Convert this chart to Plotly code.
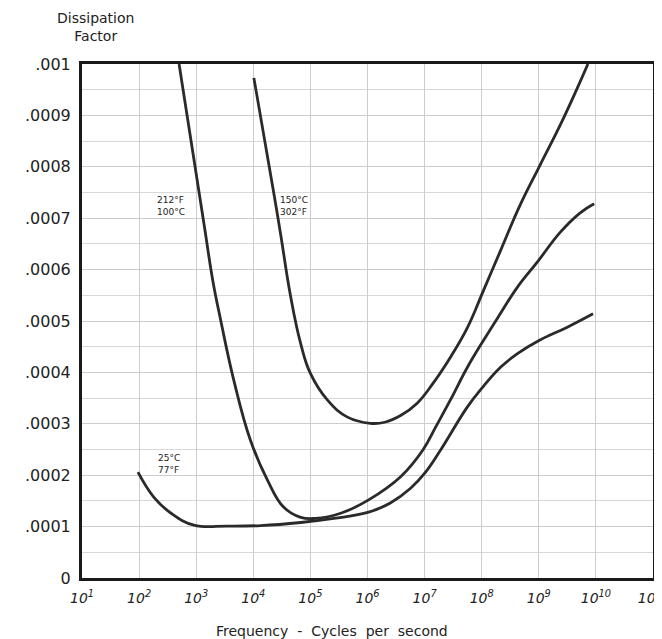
import plotly.graph_objects as go

# Frequency (log10 of Hz) and dissipation factor values
log_f_25C = [1.98, 2.26, 2.56, 2.96, 3.55, 4.13, 4.83, 5.41, 6.02, 6.40, 6.75, 7.01, 7.28, 7.75, 8.03, 8.33, 8.62, 9.02, 9.50, 9.95]
df_25C = [0.000206, 0.000157, 0.000126, 0.000103, 0.000101, 0.000102, 0.000108, 0.000116, 0.000128, 0.000146, 0.000174, 0.000205, 0.000249, 0.000333, 0.000373, 0.000410, 0.000436, 0.000463, 0.000488, 0.000514]

log_f_100C = [2.70, 2.85, 3.00, 3.15, 3.29, 3.43, 3.66, 3.95, 4.25, 4.53, 4.83, 5.09, 5.53, 6.02, 6.58, 6.97, 7.20, 7.45, 7.75, 8.03, 8.33, 8.62, 8.99, 9.37, 9.72, 9.97]
df_100C = [0.001, 0.000893, 0.000786, 0.000679, 0.000579, 0.000501, 0.000384, 0.000268, 0.000190, 0.000138, 0.000118, 0.000116, 0.000126, 0.000152, 0.000197, 0.000249, 0.000295, 0.000346, 0.000410, 0.000462, 0.000515, 0.000565, 0.000617, 0.000672, 0.000710, 0.000728]

log_f_150C = [4.01, 4.36, 4.48, 4.65, 4.83, 5.00, 5.30, 5.65, 6.05, 6.30, 6.58, 6.87, 7.15, 7.45, 7.75, 8.03, 8.33, 8.67, 9.02, 9.37, 9.67, 9.86]
df_150C = [0.000973, 0.000748, 0.000668, 0.000550, 0.000456, 0.000398, 0.000346, 0.000313, 0.000301, 0.000303, 0.000316, 0.000340, 0.000379, 0.000429, 0.000487, 0.000559, 0.000637, 0.000725, 0.000803, 0.000880, 0.000952, 0.001]

x_tick_exps = [1, 2, 3, 4, 5, 6, 7, 8, 9, 10, 11]
y_tick_vals = [0, 0.0001, 0.0002, 0.0003, 0.0004, 0.0005, 0.0006, 0.0007, 0.0008, 0.0009, 0.001]
y_tick_text = ["0", ".0001", ".0002", ".0003", ".0004", ".0005", ".0006", ".0007", ".0008", ".0009", ".001"]

# (text, log10 frequency of left edge, dissipation factor at centre)
curve_labels = [
    ("212°F<br>100°C", 2.27, 0.000724),
    ("150°C<br>302°F", 4.44, 0.000724),
    ("25°C<br>77°F", 2.29, 0.000221),
]

LINE = "#2a2a2a"
FONT = "DejaVu Sans"

fig = go.Figure()
for lx, ly in [(log_f_25C, df_25C), (log_f_100C, df_100C), (log_f_150C, df_150C)]:
    fig.add_trace(go.Scatter(
        x=[10 ** v for v in lx], y=ly, mode="lines",
        line=dict(color=LINE, width=2.8, shape="spline", smoothing=1.2),
        showlegend=False, hoverinfo="skip",
    ))

for text, lx, y in curve_labels:
    fig.add_annotation(x=lx, y=y, text=text, showarrow=False,
                       font=dict(family=FONT, size=9, color="#222"), align="left",
                       xanchor="left", yanchor="middle")

# plot area spans 572 px wide (81..653 on screen)
fig.add_annotation(xref="paper", yref="paper", x=(95 - 81) / 572, y=1.0, yshift=18,
                   text="Dissipation<br>Factor", showarrow=False,
                   font=dict(family=FONT, size=14, color="#222"), align="center",
                   xanchor="center", yanchor="bottom")

fig.add_annotation(xref="paper", yref="paper", x=(331 - 81) / 572, y=0, yshift=-43,
                   text="Frequency  -  Cycles  per  second", showarrow=False,
                   font=dict(family=FONT, size=14, color="#222"),
                   xanchor="center", yanchor="top")

# the page body adds an offset, so the figure is a little smaller than the window
fig.update_layout(
    width=654, height=631,
    margin=dict(l=74, r=9, t=56, b=61),
    paper_bgcolor="white", plot_bgcolor="white",
    font=dict(family=FONT, color="#222"),
    xaxis=dict(
        type="log", range=[1, 11], automargin=False,
        tickvals=[10 ** e for e in x_tick_exps],
        ticktext=[f"<i>10<sup>{e}</sup></i>" for e in x_tick_exps],
        tickfont=dict(size=14, family=FONT),
        ticklabeloverflow="allow", ticklabelstandoff=5,
        showgrid=True, gridcolor="#cdcdcd", gridwidth=1,
        showline=True, linecolor="#1a1a1a", linewidth=3, mirror=True,
        ticks="", zeroline=False,
    ),
    yaxis=dict(
        range=[0, 0.001], automargin=False,
        tickvals=y_tick_vals, ticktext=y_tick_text,
        tickfont=dict(size=16, family=FONT),
        ticklabeloverflow="allow",
        showgrid=True, gridcolor="#cdcdcd", gridwidth=1,
        minor=dict(dtick=0.00005, showgrid=True, gridcolor="#d8d8d8", gridwidth=1),
        showline=True, linecolor="#1a1a1a", linewidth=3, mirror=True,
        ticks="", zeroline=False, ticklabelstandoff=5,
    ),
)

fig.write_html("out.html")
